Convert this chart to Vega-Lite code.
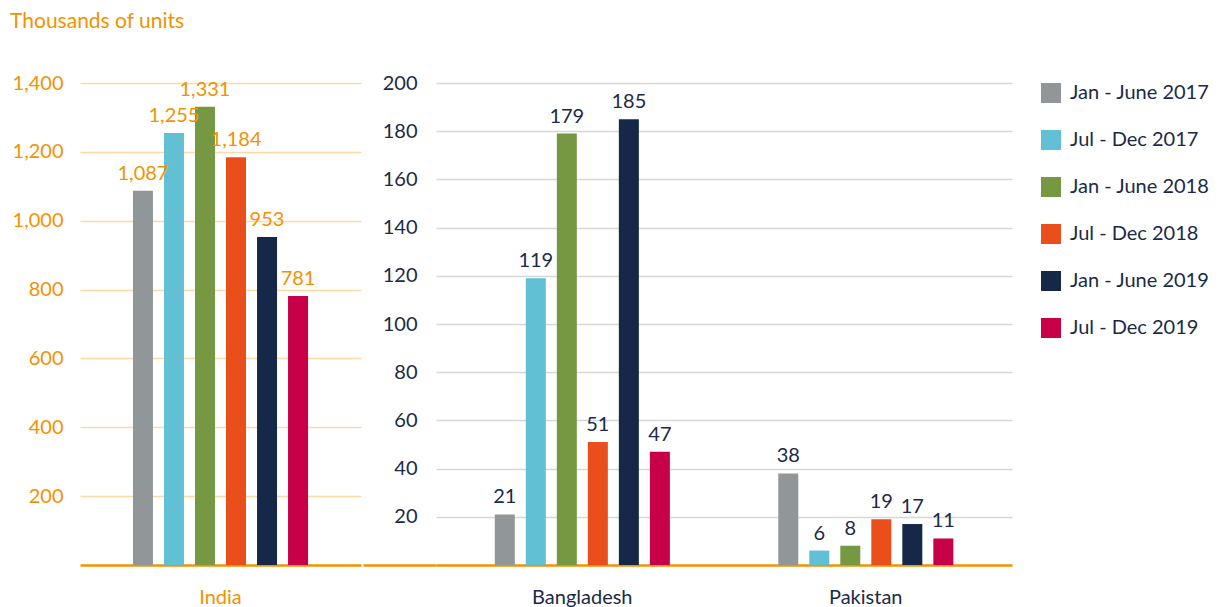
{
  "$schema": "https://vega.github.io/schema/vega-lite/v6.json",
  "padding": {"left": 10, "top": 11, "right": 5, "bottom": 0},
  "config": {"font": "Lato", "view": {"stroke": null}},
  "title": {"text": "Thousands of units", "anchor": "start", "color": "#f39200", "fontSize": 21, "fontWeight": "normal", "font": "Lato", "offset": 41, "dx": -2},
  "data": {"values": [
    {"country": "India", "period": "Jan - June 2017", "value": 1087},
    {"country": "India", "period": "Jul - Dec 2017", "value": 1255},
    {"country": "India", "period": "Jan - June 2018", "value": 1331},
    {"country": "India", "period": "Jul - Dec 2018", "value": 1184},
    {"country": "India", "period": "Jan - June 2019", "value": 953},
    {"country": "India", "period": "Jul - Dec 2019", "value": 781},
    {"country": "Bangladesh", "period": "Jan - June 2017", "value": 21},
    {"country": "Bangladesh", "period": "Jul - Dec 2017", "value": 119},
    {"country": "Bangladesh", "period": "Jan - June 2018", "value": 179},
    {"country": "Bangladesh", "period": "Jul - Dec 2018", "value": 51},
    {"country": "Bangladesh", "period": "Jan - June 2019", "value": 185},
    {"country": "Bangladesh", "period": "Jul - Dec 2019", "value": 47},
    {"country": "Pakistan", "period": "Jan - June 2017", "value": 38},
    {"country": "Pakistan", "period": "Jul - Dec 2017", "value": 6},
    {"country": "Pakistan", "period": "Jan - June 2018", "value": 8},
    {"country": "Pakistan", "period": "Jul - Dec 2018", "value": 19},
    {"country": "Pakistan", "period": "Jan - June 2019", "value": 17},
    {"country": "Pakistan", "period": "Jul - Dec 2019", "value": 11}
  ]},
  "spacing": 0,
  "hconcat": [
    {
      "width": 281,
      "height": 482,
      "transform": [{"filter": "datum.country === 'India'"}],
      "encoding": {
        "x": {"field": "country", "type": "nominal", "scale": {"paddingInner": 0, "paddingOuter": 0.255},
          "axis": {"title": null, "ticks": false, "labelAngle": 0, "labelFontSize": 20, "labelColor": "#f39200", "labelPadding": 22, "domainColor": "#f39200", "domainWidth": 2.5}},
        "xOffset": {"field": "period", "type": "nominal",
          "sort": ["Jan - June 2017", "Jul - Dec 2017", "Jan - June 2018", "Jul - Dec 2018", "Jan - June 2019", "Jul - Dec 2019"],
          "scale": {"paddingInner": 0.355, "paddingOuter": 0.1775}},
        "y": {"field": "value", "type": "quantitative", "scale": {"domain": [0, 1400], "nice": false},
          "axis": {"title": null, "values": [200, 400, 600, 800, 1000, 1200, 1400], "labelExpr": "format(datum.value, ',')", "domain": false, "ticks": false,
            "labelFontSize": 20, "labelColor": "#f39200", "labelPadding": 17,
            "grid": true, "gridColor": "#fdd9a6", "gridWidth": 1.5}}
      },
      "layer": [
        {"mark": {"type": "bar"},
          "encoding": {"color": {"field": "period", "type": "nominal",
            "scale": {"domain": ["Jan - June 2017", "Jul - Dec 2017", "Jan - June 2018", "Jul - Dec 2018", "Jan - June 2019", "Jul - Dec 2019"],
              "range": ["#919799", "#62c0d5", "#779843", "#ea4f1b", "#152847", "#c70047"]},
            "legend": {"title": null, "orient": "right", "offset": 29, "padding": 0, "symbolType": "square", "symbolSize": 400, "symbolStrokeWidth": 0,
              "labelFontSize": 20, "labelColor": "#1b2a47", "labelOffset": 9, "rowPadding": 27, "labelLimit": 300}}}},
        {"mark": {"type": "text", "baseline": "bottom", "dy": -7, "color": "#f39200", "fontSize": 20},
          "encoding": {"text": {"field": "value", "type": "quantitative", "format": ","}}}
      ]
    },
    {
      "width": 576,
      "height": 482,
      "transform": [{"filter": "datum.country !== 'India'"}],
      "encoding": {
        "x": {"field": "country", "type": "nominal", "sort": ["Bangladesh", "Pakistan"], "scale": {"paddingInner": 0.344, "paddingOuter": 0.188},
          "axis": {"title": null, "ticks": false, "labelAngle": 0, "labelFontSize": 20, "labelColor": "#1b2a47", "labelPadding": 22, "domainColor": "#f39200", "domainWidth": 2.5}},
        "xOffset": {"field": "period", "type": "nominal",
          "sort": ["Jan - June 2017", "Jul - Dec 2017", "Jan - June 2018", "Jul - Dec 2018", "Jan - June 2019", "Jul - Dec 2019"],
          "scale": {"paddingInner": 0.355, "paddingOuter": 0.1775}},
        "y": {"field": "value", "type": "quantitative", "scale": {"domain": [0, 200], "nice": false},
          "axis": {"title": null, "values": [0, 20, 40, 60, 80, 100, 120, 140, 160, 180, 200], "domain": false,
            "labelExpr": "datum.value === 0 ? '' : datum.label",
            "ticks": true, "tickSize": 73, "tickWidth": 2.5,
            "tickColor": {"condition": {"test": "datum.value === 0", "value": "#f39200"}, "value": "transparent"},
            "labelFontSize": 20, "labelColor": "#1b2a47", "labelPadding": -54,
            "grid": true, "gridWidth": 1.5,
            "gridColor": {"condition": {"test": "datum.value === 0", "value": "transparent"}, "value": "#d5d8db"}}}
      },
      "layer": [
        {"mark": {"type": "bar"},
          "encoding": {"color": {"field": "period", "type": "nominal"}}},
        {"mark": {"type": "text", "baseline": "bottom", "dy": -7, "color": "#1b2a47", "fontSize": 20},
          "encoding": {"text": {"field": "value", "type": "quantitative", "format": ","}}}
      ]
    }
  ]
}
